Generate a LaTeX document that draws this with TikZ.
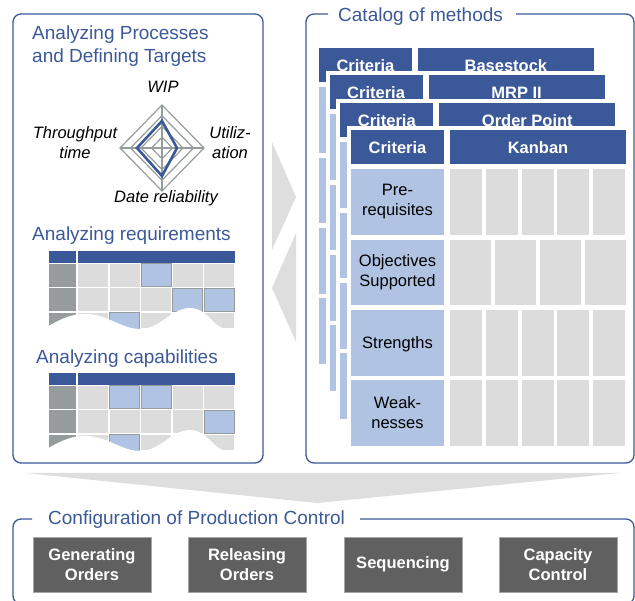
\documentclass[tikz,border=0pt]{standalone}
\usepackage{fontspec}
\setmainfont{Liberation Sans}
\definecolor{mblue}{RGB}{59,89,152}
\definecolor{lblue}{RGB}{176,195,226}
\definecolor{lgray}{RGB}{220,220,220}
\definecolor{dgray}{RGB}{96,96,96}
\definecolor{mgray}{RGB}{150,156,156}
\definecolor{agray}{RGB}{222,222,222}
\tikzset{
  panel/.style={draw=mblue, line width=1.3pt, rounded corners=8pt},
  paneltitle/.style={text=mblue, font=\fontsize{19}{23}\selectfont, inner sep=0pt, align=left},
  axlabel/.style={font=\fontsize{16.5}{20}\selectfont\itshape, align=center, inner sep=0pt},
  hdtext/.style={text=white, font=\fontsize{16.5}{20}\selectfont\bfseries, inner sep=0pt},
  rowtext/.style={font=\fontsize{16.5}{20}\selectfont, align=center, inner sep=0pt},
  stepbox/.style={fill=dgray, draw=gray!70, line width=0.5pt, minimum width=118pt, minimum height=55pt,
    inner sep=0pt, text=white, font=\fontsize{16.5}{20}\selectfont\bfseries, align=center},
  hilite/.style={fill=lblue, draw=mgray, line width=1pt},
}
\begin{document}
\begin{tikzpicture}[x=1pt,y=-1pt]
  \useasboundingbox (0,0) rectangle (635,601);

  % 矢印
  \fill[agray] (272,142) -- (296,197) -- (272,250) -- cycle;
  \fill[agray] (296,233) -- (272,288) -- (296,342) -- cycle;
  \fill[agray] (25,473) -- (620,473) -- (317,503) -- cycle;

  % 左パネル
  \draw[panel] (13,14) rectangle (263,463);
  \node[paneltitle, anchor=north west] (tproc) at (32,26) {Analyzing Processes\\and Defining Targets};
  \node[paneltitle, anchor=base west] (treq) at (32,241) {Analyzing requirements};
  \node[paneltitle, anchor=base west] (tcap) at (36,364) {Analyzing capabilities};

  % レーダーチャート
  \foreach \f in {1,0.75,0.5,0.25}
    \draw[mgray, line width=1.2pt] (162,{148-43*\f}) -- ({162+42*\f},148) -- (162,{148+43*\f}) -- ({162-42*\f},148) -- cycle;
  \draw[mgray, line width=1.2pt] (162,105) -- (162,191) (120,148) -- (204,148);
  \draw[mblue, line width=2.6pt] (162,121) -- (177,148) -- (162,176) -- (137,148) -- cycle;
  \node[axlabel] (lwip) at (163,87) {WIP};
  \node[axlabel] (lthr) at (75,143) {Throughput\\time};
  \node[axlabel] (luti) at (230,143) {Utiliz-\\ation};
  \node[axlabel] (ldate) at (166,198) {Date reliability};

  % 表 (要求・能力)
  \foreach \oy/\blues in {0/{3/1,4/2,5/2,2/3},122/{2/1,3/1,5/2,2/3}} {
    \begin{scope}[shift={(0,\oy)}]
      \fill[mblue] (49,251) rectangle (76,263);
      \fill[mblue] (78,251) rectangle (235,263);
      \foreach \ya/\yb in {264/287,288/311,313/328} {
        \fill[mgray] (49,\ya) rectangle (76,\yb);
        \foreach \j in {0,...,4}
          \fill[lgray] ({78+\j*31.5},\ya) rectangle ({108+\j*31.5},\yb);
      }
      \foreach \c/\r in \blues
        \filldraw[hilite] ({78+(\c-1)*31.5},{264+(\r-1)*24.4}) rectangle ({108+(\c-1)*31.5},{287+(\r-1)*24.4});
      \fill[white] (47,327) .. controls (62,318) and (74,313) .. (88,314)
        .. controls (108,315) and (122,329) .. (140,329)
        .. controls (160,329) and (172,308) .. (190,308)
        .. controls (208,308) and (214,329) .. (227,329) -- (227,338) -- (47,338) -- cycle;
    \end{scope}
  }

  % 右パネル
  \draw[panel] (328,14) -- (306,14) -- (306,463) -- (634,463) -- (634,14) -- (516,14);
  \node[paneltitle, anchor=base west] (tcat) at (338,22) {Catalog of methods};

  % カード
  \foreach \k/\meth in {0/Basestock,1/MRP II,2/Order Point,3/Kanban} {
    \begin{scope}[shift={({(\k-3)*10.7},{(\k-3)*27.3})}]
      \fill[white] (347,126) rectangle (630,450);
      \fill[mblue] (351,130) rectangle (444,164);
      \fill[mblue] (450,130) rectangle (626,164);
      \node[hdtext] (crit\k) at (397.5,147.5) {Criteria};
      \node[hdtext] (meth\k) at (538,147.5) {\meth};
      \foreach \ya/\yb in {169/235,240/305,310/376,380/446}
        \fill[lblue] (351,\ya) rectangle (444,\yb);
      \foreach \ya/\yb in {169/235,310/376,380/446}
        \foreach \j in {0,...,4}
          \fill[lgray] ({450+\j*35.8},\ya) rectangle ({482+\j*35.8},\yb);
      \foreach \j in {0,...,3}
        \fill[lgray] ({450+\j*45},240) rectangle ({491+\j*45},305);
    \end{scope}
  }
  \node[rowtext] (pre) at (397.5,202) {Pre-\\requisites};
  \node[rowtext] (obj) at (397.5,272) {Objectives\\Supported};
  \node[rowtext] (str) at (397.5,344) {Strengths};
  \node[rowtext] (weak) at (397.5,413) {Weak-\\nesses};

  % 下パネル
  \draw[panel] (32,519) -- (13,519) -- (13,604) -- (634,604) -- (634,519) -- (360,519);
  \node[paneltitle, anchor=base west] (tconf) at (48,525) {Configuration of Production Control};
  \node[stepbox] (gen) at (92,564.5) {Generating\\Orders};
  \node[stepbox] (rel) at (247,564.5) {Releasing\\Orders};
  \node[stepbox] (seq) at (403,564.5) {Sequencing};
  \node[stepbox] (capc) at (558,564.5) {Capacity\\Control};
\end{tikzpicture}
\end{document}
